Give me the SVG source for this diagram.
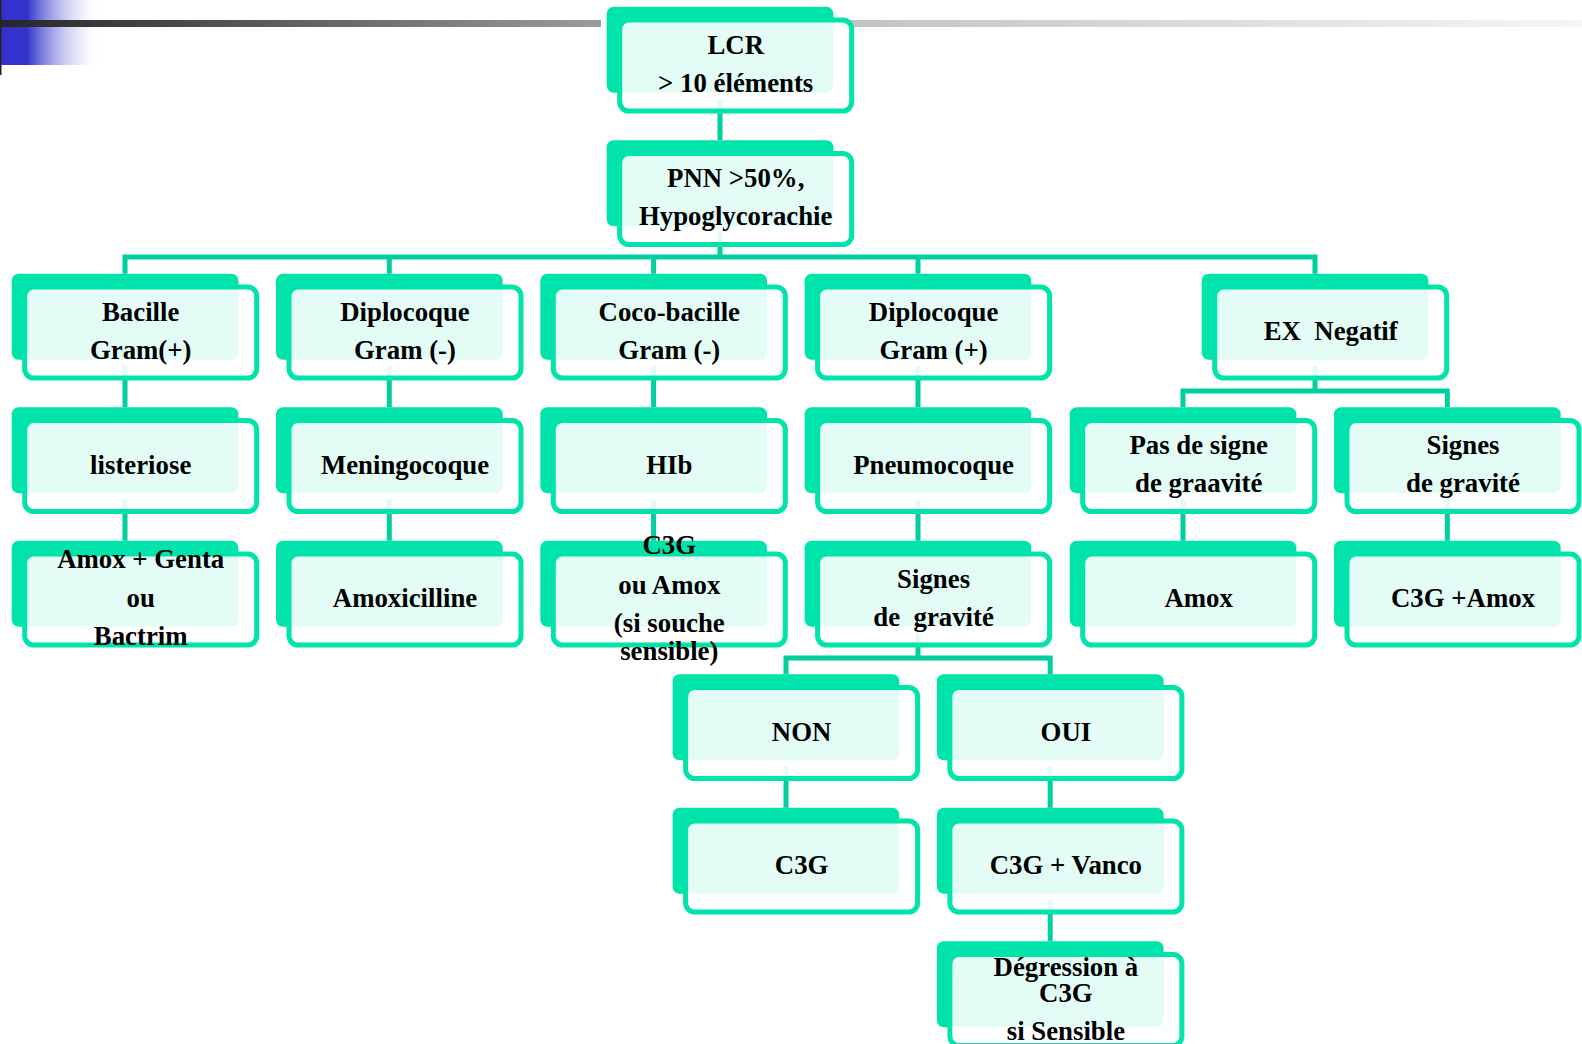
<svg xmlns="http://www.w3.org/2000/svg" width="1582" height="1044" viewBox="0 0 1582 1044">
<defs>
<style>
.solid{fill:#00E3AA}
.over{fill:#ffffff;fill-opacity:0.89;stroke:#00E3AA;stroke-width:5}
.conn{fill:none;stroke:#00CFA0;stroke-width:5;stroke-linejoin:miter}
text{font-family:"Liberation Serif","Times New Roman",serif;font-weight:bold;font-size:26.8px;fill:#000;text-anchor:middle}
.pre{white-space:pre}
</style>
<linearGradient id="gBlue" x1="0" y1="0" x2="1" y2="0">
<stop offset="0" stop-color="#3333CC"/>
<stop offset="0.26" stop-color="#3333CC"/>
<stop offset="1" stop-color="#ffffff" stop-opacity="0"/>
</linearGradient>
<linearGradient id="gDark" x1="0" y1="0" x2="1" y2="0">
<stop offset="0" stop-color="#262626"/>
<stop offset="1" stop-color="#9c9c9c"/>
</linearGradient>
<linearGradient id="gLight" x1="0" y1="0" x2="1" y2="0">
<stop offset="0" stop-color="#c2c2c2"/>
<stop offset="1" stop-color="#f6f6f6"/>
</linearGradient>
<g id="box">
<rect class="solid" x="0" y="0" width="226.7" height="86" rx="7"/>
<rect class="over" x="13" y="13.3" width="232" height="91" rx="9"/>
</g>
</defs>

<g id="decoration">
<rect x="0" y="0" width="104" height="65" fill="url(#gBlue)"/>
<rect x="0" y="0" width="1.5" height="75" fill="#222"/>
<rect x="0" y="20" width="601" height="7" fill="url(#gDark)"/>
<rect x="834" y="20" width="748" height="7" fill="url(#gLight)"/>
</g>

<g id="connectors">
<path class="conn" d="M720 98.7 V140.2"/>
<path class="conn" d="M720 232.2 V257"/>
<path class="conn" d="M125 273.7 V257 H1315 V273.7"/>
<path class="conn" d="M389.3 257 V273.7 M653.6 257 V273.7 M918 257 V273.7"/>
<path class="conn" d="M125 365.7 V407.2 M389.3 365.7 V407.2 M653.6 365.7 V407.2 M918 365.7 V407.2"/>
<path class="conn" d="M1315 365.7 V391"/>
<path class="conn" d="M1183 407.2 V391 H1447.3 V407.2"/>
<path class="conn" d="M125 499.2 V540.7 M389.3 499.2 V540.7 M653.6 499.2 V540.7 M918 499.2 V540.7 M1183 499.2 V540.7 M1447.3 499.2 V540.7"/>
<path class="conn" d="M918 632.7 V658"/>
<path class="conn" d="M786 674.2 V658 H1050.2 V674.2"/>
<path class="conn" d="M786 766.2 V807.7 M1050.2 766.2 V807.7"/>
<path class="conn" d="M1050.2 899.7 V941.2"/>
</g>

<g id="n-lcr" transform="translate(606.7,6.7)"><use href="#box"/><text x="129" y="47.3">LCR</text><text x="129" y="85.3">&gt; 10 éléments</text></g>
<g id="n-pnn" transform="translate(606.7,140.2)"><use href="#box"/><text x="129" y="47.3">PNN &gt;50%,</text><text x="129" y="85.3">Hypoglycorachie</text></g>

<g id="n-bacille" transform="translate(11.7,273.7)"><use href="#box"/><text x="129" y="47.3">Bacille</text><text x="129" y="85.3">Gram(+)</text></g>
<g id="n-diplo-neg" transform="translate(276,273.7)"><use href="#box"/><text x="129" y="47.3">Diplocoque</text><text x="129" y="85.3">Gram (-)</text></g>
<g id="n-coco" transform="translate(540.3,273.7)"><use href="#box"/><text x="129" y="47.3">Coco-bacille</text><text x="129" y="85.3">Gram (-)</text></g>
<g id="n-diplo-pos" transform="translate(804.6,273.7)"><use href="#box"/><text x="129" y="47.3">Diplocoque</text><text x="129" y="85.3">Gram (+)</text></g>
<g id="n-ex" transform="translate(1201.7,273.7)"><use href="#box"/><text class="pre" x="129" y="66.5">EX  Negatif</text></g>

<g id="n-listeriose" transform="translate(11.7,407.2)"><use href="#box"/><text x="129" y="66.5">listeriose</text></g>
<g id="n-meningo" transform="translate(276,407.2)"><use href="#box"/><text x="129" y="66.5">Meningocoque</text></g>
<g id="n-hib" transform="translate(540.3,407.2)"><use href="#box"/><text x="129" y="66.5">HIb</text></g>
<g id="n-pneumo" transform="translate(804.6,407.2)"><use href="#box"/><text x="129" y="66.5">Pneumocoque</text></g>
<g id="n-pas-signe" transform="translate(1069.7,407.2)"><use href="#box"/><text x="129" y="47.3">Pas de signe</text><text x="129" y="85.3">de graavité</text></g>
<g id="n-signes-ex" transform="translate(1334,407.2)"><use href="#box"/><text x="129" y="47.3">Signes</text><text x="129" y="85.3">de gravité</text></g>

<g id="n-amox-genta" transform="translate(11.7,540.7)"><use href="#box"/><text x="129" y="27.5">Amox + Genta</text><text x="129" y="66">ou</text><text x="129" y="104.3">Bactrim</text></g>
<g id="n-amoxicilline" transform="translate(276,540.7)"><use href="#box"/><text x="129" y="66.5">Amoxicilline</text></g>
<g id="n-c3g-amox" transform="translate(540.3,540.7)"><use href="#box"/><text x="129" y="13.3">C3G</text><text x="129" y="53.3">ou Amox</text><text x="129" y="91.3">(si souche</text><text x="129" y="119.3">sensible)</text></g>
<g id="n-signes-pneumo" transform="translate(804.6,540.7)"><use href="#box"/><text x="129" y="47.3">Signes</text><text class="pre" x="129" y="85.3">de  gravité</text></g>
<g id="n-amox" transform="translate(1069.7,540.7)"><use href="#box"/><text x="129" y="66.5">Amox</text></g>
<g id="n-c3g-amox2" transform="translate(1334,540.7)"><use href="#box"/><text x="129" y="66.5">C3G +Amox</text></g>

<g id="n-non" transform="translate(672.6,674.2)"><use href="#box"/><text x="129" y="66.5">NON</text></g>
<g id="n-oui" transform="translate(936.9,674.2)"><use href="#box"/><text x="129" y="66.5">OUI</text></g>

<g id="n-c3g" transform="translate(672.6,807.7)"><use href="#box"/><text x="129" y="66.5">C3G</text></g>
<g id="n-c3g-vanco" transform="translate(936.9,807.7)"><use href="#box"/><text x="129" y="66.5">C3G + Vanco</text></g>

<g id="n-degression" transform="translate(936.9,941.2)"><use href="#box"/><text x="129" y="34.8">Dégression à</text><text x="129" y="61">C3G</text><text x="129" y="99">si Sensible</text></g>
</svg>
